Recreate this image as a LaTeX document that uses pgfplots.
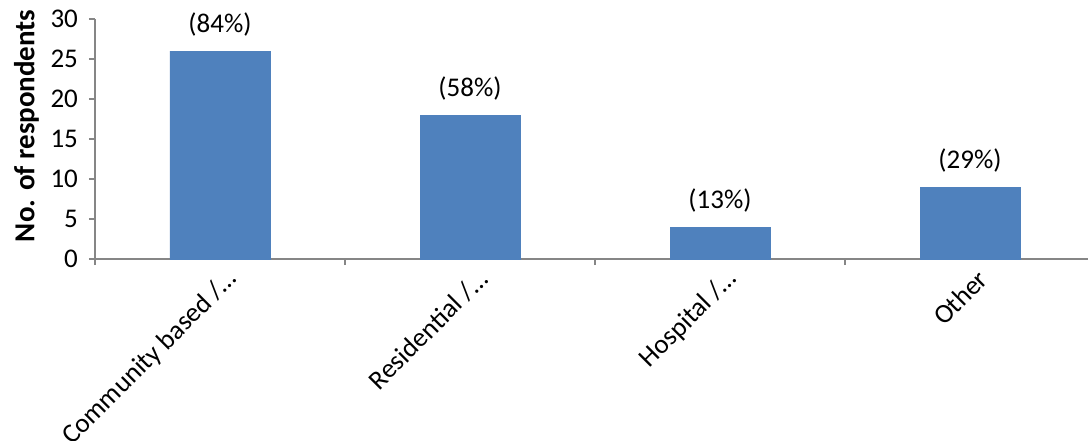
\documentclass[border=0pt]{standalone}
\usepackage{pgfplots}
\pgfplotsset{compat=1.18}
\usetikzlibrary{calc}
\usepackage{fontspec}
\setmainfont{Carlito}
\definecolor{barblue}{HTML}{4F81BD}
\definecolor{axisgray}{HTML}{868686}
\newcommand{\chartfont}{\fontsize{13.5}{16}\selectfont}
\begin{document}
\begin{tikzpicture}
\begin{axis}[
  name=ax,
  scale only axis,
  width=500pt, height=120pt,
  xmin=-0.5, xmax=3.5,
  ymin=0, ymax=30,
  ytick={0,5,...,30},
  xtick={-0.5,0.5,1.5,2.5,3.5},
  x tick label as interval,
  xticklabels={Community based /…, Residential /…, Hospital /…, Other},
  axis lines*=left,
  axis line style={draw=axisgray, line width=0.8pt, -},
  tick style={draw=axisgray, line width=0.8pt},
  major tick length=3pt,
  tick align=outside,
  /pgf/number format/assume math mode=true,
  tick label style={font=\chartfont},
  yticklabel style={xshift=-2pt},
  xticklabel style={xshift=9pt, yshift=-2.5pt, rotate=45, anchor=east},
  ylabel={\textbf{No. of respondents}},
  ylabel style={font=\fontsize{14.5}{17}\selectfont, at={(ticklabel cs:0.555)}, yshift=-1pt},
  ybar,
  bar width=50pt,
  nodes near coords,
  point meta=explicit symbolic,
  nodes near coords style={font=\chartfont, yshift=4pt},
]
\addplot[fill=barblue, draw=barblue] coordinates {
  (0,26) [(84\%)]
  (1,18) [(58\%)]
  (2,4)  [(13\%)]
  (3,9)  [(29\%)]
};
\end{axis}
\pgfresetboundingbox
\path ($(ax.south west)+(-47.5pt,-90.5pt)$) rectangle ($(ax.north east)+(-3.5pt,9.5pt)$);
\end{tikzpicture}
\end{document}
